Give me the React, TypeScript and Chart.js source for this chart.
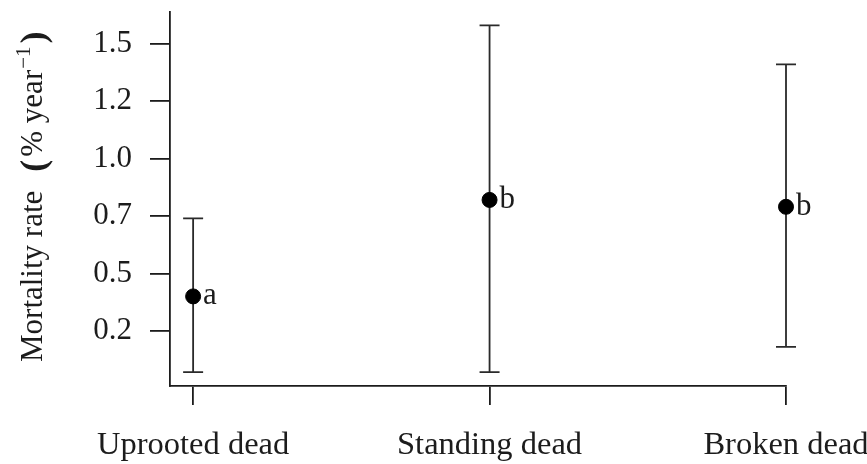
import { useEffect, useRef } from "react";
import { Chart, registerables } from "chart.js";

Chart.register(...registerables);

// ---- data ----
const categories = ["Uprooted dead", "Standing dead", "Broken dead"];
const rate = [0.4, 0.82, 0.79];
const lower = [0.07, 0.07, 0.18];
const upper = [0.74, 1.58, 1.41];
const groupLetters = ["a", "b", "b"];
const yTickValues = [0.25, 0.5, 0.75, 1.0, 1.25, 1.5];
const yTickLabels = ["0.2", "0.5", "0.7", "1.0", "1.2", "1.5"];
const xTickValues = [1, 2, 3];

const FONT = '"Liberation Serif", "Times New Roman", serif';
const INK = "#1c1c1c";

export default function App() {
  const ref = useRef<HTMLCanvasElement>(null);

  useEffect(() => {
    const canvas = ref.current;
    if (!canvas) return;

    const errorBars = {
      id: "errorBars",
      beforeDatasetsDraw(chart: any) {
        const { ctx, scales } = chart;
        const x = scales.x;
        const y = scales.y;
        ctx.save();
        ctx.strokeStyle = "#2a2a2a";
        ctx.lineWidth = 1.8;
        categories.forEach((_, i) => {
          const px = x.getPixelForValue(xTickValues[i]);
          const lo = y.getPixelForValue(lower[i]);
          const hi = y.getPixelForValue(upper[i]);
          ctx.beginPath();
          ctx.moveTo(px, lo);
          ctx.lineTo(px, hi);
          ctx.moveTo(px - 10, lo);
          ctx.lineTo(px + 10, lo);
          ctx.moveTo(px - 10, hi);
          ctx.lineTo(px + 10, hi);
          ctx.stroke();
        });
        ctx.restore();
      },
    };

    const letters = {
      id: "letters",
      afterDatasetsDraw(chart: any) {
        const { ctx, scales } = chart;
        const x = scales.x;
        const y = scales.y;
        ctx.save();
        ctx.fillStyle = INK;
        ctx.font = `31px ${FONT}`;
        ctx.textAlign = "left";
        ctx.textBaseline = "alphabetic";
        categories.forEach((_, i) => {
          const px = x.getPixelForValue(xTickValues[i]);
          const py = y.getPixelForValue(rate[i]);
          ctx.fillText(groupLetters[i], px + 10, py + 8);
        });
        ctx.restore();
      },
    };

    const yTitle = {
      id: "yTitle",
      afterDraw(chart: any) {
        const { ctx } = chart;
        ctx.save();
        ctx.fillStyle = INK;
        ctx.translate(42, 362);
        ctx.rotate(-Math.PI / 2);
        ctx.textAlign = "left";
        ctx.textBaseline = "alphabetic";
        let cx = 0;
        ctx.font = `31px ${FONT}`;
        const main = "Mortality rate";
        ctx.fillText(main, cx, 0);
        cx += ctx.measureText(main).width + 19;
        ctx.font = `bold 36px ${FONT}`;
        ctx.fillText("(", cx, 3);
        cx += ctx.measureText("(").width + 3;
        ctx.font = `31px ${FONT}`;
        const unit = "% year";
        ctx.fillText(unit, cx, 0);
        cx += ctx.measureText(unit).width + 1;
        ctx.font = `21px ${FONT}`;
        const sup = "\u22121";
        ctx.fillText(sup, cx, -12);
        cx += ctx.measureText(sup).width + 3;
        ctx.font = `bold 36px ${FONT}`;
        ctx.fillText(")", cx, 3);
        ctx.restore();
      },
    };

    const chart = new Chart(canvas, {
      type: "scatter",
      data: {
        datasets: [
          {
            data: categories.map((_, i) => ({ x: xTickValues[i], y: rate[i] })),
            backgroundColor: "#000",
            borderColor: "#000",
            pointRadius: 7.5,
            pointHoverRadius: 7.5,
            clip: false,
          } as any,
        ],
      },
      options: {
        responsive: false,
        animation: false,
        devicePixelRatio: 1,
        layout: { padding: { left: 0, right: 81, top: 12, bottom: 0 } },
        plugins: {
          legend: { display: false },
          tooltip: { enabled: false },
          title: { display: false },
        },
        scales: {
          x: {
            type: "linear",
            min: 0.922,
            max: 3,
            afterBuildTicks(scale: any) {
              scale.ticks = xTickValues.map((v) => ({ value: v }));
            },
            afterFit(scale: any) {
              scale.height = 78;
              scale.paddingLeft = 0;
              scale.paddingRight = 0;
              scale.paddingTop = 0;
              scale.paddingBottom = 0;
            },
            ticks: {
              color: INK,
              font: { family: FONT, size: 32.5 },
              padding: 21,
              maxRotation: 0,
              autoSkip: false,
              callback: (_v: any, i: number) => categories[i],
            },
            grid: {
              drawOnChartArea: false,
              drawTicks: true,
              tickLength: 19,
              color: INK,
              lineWidth: 1.8,
            },
            border: { display: true, color: INK, width: 1.8 },
          },
          y: {
            type: "linear",
            min: 0.01,
            max: 1.638,
            afterBuildTicks(scale: any) {
              scale.ticks = yTickValues.map((v) => ({ value: v }));
            },
            afterFit(scale: any) {
              scale.width = 170;
              scale.paddingLeft = 0;
              scale.paddingRight = 0;
              scale.paddingTop = 0;
              scale.paddingBottom = 0;
            },
            ticks: {
              color: INK,
              font: { family: FONT, size: 31 },
              padding: 18,
              autoSkip: false,
              callback: (_v: any, i: number) => yTickLabels[i],
            },
            grid: {
              drawOnChartArea: false,
              drawTicks: true,
              tickLength: 20,
              color: INK,
              lineWidth: 1.8,
            },
            border: { display: true, color: INK, width: 1.8 },
          },
        },
      },
      plugins: [errorBars, letters, yTitle],
    });

    return () => chart.destroy();
  }, []);

  return (
    <div style={{ position: "absolute", left: 0, top: 0, width: 867, height: 464, background: "#fff" }}>
      <canvas ref={ref} width={867} height={464} style={{ display: "block" }} />
    </div>
  );
}
